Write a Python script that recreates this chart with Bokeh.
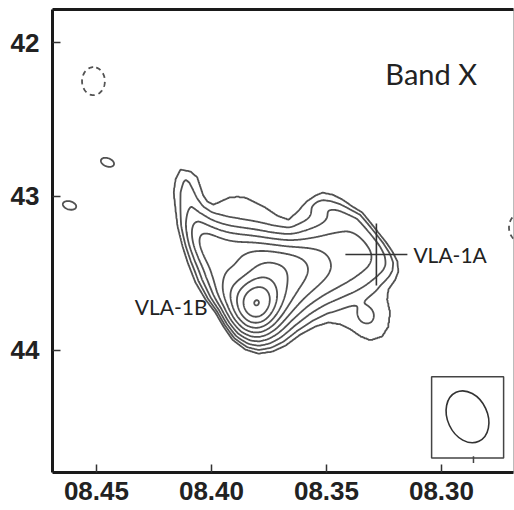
import numpy as np
from bokeh.plotting import figure
from bokeh.plotting.contour import contour_data
from bokeh.models import Range1d, FixedTicker, PrintfTickFormatter, LinearAxis
from bokeh.core.properties import value
from bokeh.embed import file_html
from bokeh.resources import INLINE

# ---------------- values (RA in s, Dec in arcsec) ----------------
# lowest (3 sigma) contour of the main source, traced clockwise from the tip of the tail
outer_ra = [8.4135, 8.4091, 8.4061, 8.4048, 8.4035, 8.4017, 8.3991, 8.3961, 8.3926, 8.3887,
            8.3852, 8.3809, 8.3765, 8.3713, 8.3665, 8.3626, 8.3587, 8.3548, 8.3517, 8.3474,
            8.3430, 8.3387, 8.3344, 8.3309, 8.3274, 8.3243, 8.3213, 8.3191, 8.3187, 8.3200,
            8.3230, 8.3235, 8.3222, 8.3230, 8.3257, 8.3309, 8.3352, 8.3396, 8.3439, 8.3491,
            8.3548, 8.3613, 8.3678, 8.3735, 8.3796, 8.3852, 8.3909, 8.3948, 8.3983, 8.4026,
            8.4070, 8.4104, 8.4126, 8.4148, 8.4157, 8.4165, 8.4157]
outer_dec = [42.824, 42.837, 42.876, 42.935, 42.993, 43.033, 43.052, 43.033, 43.007, 43.000,
             43.007, 43.039, 43.072, 43.124, 43.150, 43.098, 43.033, 42.993, 42.974, 42.987,
             43.020, 43.065, 43.104, 43.169, 43.235, 43.293, 43.358, 43.423, 43.489, 43.541,
             43.606, 43.671, 43.756, 43.847, 43.912, 43.938, 43.912, 43.866, 43.834, 43.821,
             43.847, 43.899, 43.971, 44.010, 44.023, 43.997, 43.932, 43.847, 43.756, 43.671,
             43.560, 43.430, 43.326, 43.195, 43.085, 42.974, 42.889]

# brightness above the lowest contour inside the source (units of rms)
#           plateau  1B core  1B halo  N band   W flank  tail    N knot   island
comp_ra  = [8.3417, 8.3804, 8.3796, 8.3852, 8.3983, 8.4100, 8.3517, 8.3326]
comp_dec = [43.3779, 43.7166, 43.684, 43.3322, 43.4756, 43.0977, 43.052, 43.7818]
comp_sa  = [0.3583, 0.1042, 0.2345, 0.2606, 0.2606, 0.3257, 0.1954, 0.0456]
comp_sb  = [0.2085, 0.1433, 0.2085, 0.1107, 0.1042, 0.0977, 0.0521, 0.0456]
comp_pa  = [23, 0, 30, -12, -70, 100, -15, 0]
comp_pow = [1.5, 1, 1, 1, 1, 1, 1, 1]
comp_amp = [3.35, 3.08, 5.4, 3.0, 2.2, 1.5, 1.3, 1.7]

# isolated blobs around the source
knot_ra  = [8.4452, 8.4617, 8.4513, 8.2657]
knot_dec = [42.7785, 43.0586, 42.2508, 43.2020]
knot_sa  = [0.065, 0.065, 0.085, 0.085]
knot_sb  = [0.039, 0.039, 0.104, 0.104]
knot_pa  = [-20, -15, 0, 0]
knot_amp = [3.8, 3.8, -4.4, -4.4]

pos_levels = [3, 4, 5, 6, 7, 8, 9, 10, 11, 12]
neg_levels = [-3]

x_ticks = [8.30, 8.35, 8.40, 8.45]
y_ticks = [42, 43, 44]

src_ra = [8.3283, 8.3800]
src_dec = [43.378, 43.7036]
src_names = ["VLA-1A", "VLA-1B"]

band_label = "Band X"
band_pos = (8.3244, 42.1987)
beam_box = dict(left=8.3043, right=8.2730, top=44.1726, bottom=44.700)
beam_center = (8.2887, 44.433)
beam_mark = dict(ra=8.2861, dec0=44.690, dec1=44.733)

ARCSEC_PER_S = 15.0
edge_in = 0.0456    # inner ramp scale (arcsec)
edge_out = 0.0195   # outer fall-off scale (arcsec)

# ---------------- build the map ----------------
gx = np.linspace(8.255, 8.485, 700)
gy = np.linspace(41.70, 44.85, 640)
X, Y = np.meshgrid(gx, gy)
U = X * ARCSEC_PER_S
V = Y


def gauss_sum(ras, decs, sas, sbs, pas, pows, amps):
    out = np.zeros_like(X)
    for ra, dec, sa, sb, pa, pw, amp in zip(ras, decs, sas, sbs, pas, pows, amps):
        u = (ra - X) * ARCSEC_PER_S
        w = (dec - Y)
        t = np.deg2rad(pa)
        pp = u * np.cos(t) + w * np.sin(t)
        qq = -u * np.sin(t) + w * np.cos(t)
        r2 = (pp / sa) ** 2 + (qq / sb) ** 2
        out += amp * np.exp(-(0.5 * r2) ** pw)
    return out


def signed_distance(xs, ys):
    px = np.asarray(xs) * ARCSEC_PER_S
    py = np.asarray(ys)
    n = len(px)
    dmin = np.full(U.shape, np.inf)
    inside = np.zeros(U.shape, bool)
    for i in range(n):
        x1, y1, x2, y2 = px[i], py[i], px[(i + 1) % n], py[(i + 1) % n]
        dx, dy = x2 - x1, y2 - y1
        t = np.clip(((U - x1) * dx + (V - y1) * dy) / (dx * dx + dy * dy), 0, 1)
        dmin = np.minimum(dmin, np.hypot(U - (x1 + t * dx), V - (y1 + t * dy)))
        if dy != 0:
            cond = (y1 > V) != (y2 > V)
            xint = x1 + (V - y1) * dx / dy
            inside ^= cond & (U < xint)
    return np.where(inside, dmin, -dmin)


d = signed_distance(outer_ra, outer_dec)
F = gauss_sum(comp_ra, comp_dec, comp_sa, comp_sb, comp_pa, comp_pow, comp_amp)
Z = np.where(d < 0, 3.0 * np.exp(np.minimum(d, 0) / edge_out),
             3.0 + F * (1 - np.exp(-np.maximum(d, 0) / edge_in)))
Z += gauss_sum(knot_ra, knot_dec, knot_sa, knot_sb, knot_pa, [1] * len(knot_ra), knot_amp)

# ---------------- figure ----------------
p = figure(width=514, height=510,
           x_range=Range1d(8.4691, 8.2687), y_range=Range1d(44.795, 41.785),
           output_backend="svg", toolbar_location=None,
           min_border_left=52, min_border_right=1, min_border_top=9, min_border_bottom=38)
p.background_fill_color = "white"
p.border_fill_color = "white"
p.outline_line_color = "#bbbbbb"
p.outline_line_width = 1
p.xgrid.visible = False
p.ygrid.visible = False

pos = contour_data(gx, gy, Z, pos_levels, want_fill=False, want_line=True)
p.multi_line(pos.line_data.xs, pos.line_data.ys, line_color="#525252", line_width=1.8)
neg = contour_data(gx, gy, Z, neg_levels, want_fill=False, want_line=True)
p.multi_line(neg.line_data.xs, neg.line_data.ys, line_color="#525252", line_width=1.8, line_dash="5 4")

# source marker and labels
p.scatter([src_ra[0]], [src_dec[0]], marker="cross", size=62, line_color="#333333", line_width=1.6)
p.text([src_ra[0]], [src_dec[0]], text=[src_names[0]], x_offset=37, y_offset=0,
       text_font=value("Lato"), text_font_size="21px", text_align="left",
       text_baseline="middle", text_color="#222222")
p.text([src_ra[1]], [src_dec[1]], text=[src_names[1]], x_offset=-50, y_offset=2,
       text_font=value("Lato"), text_font_size="21px", text_align="right",
       text_baseline="middle", text_color="#222222")
p.text([band_pos[0]], [band_pos[1]], text=[band_label], text_font=value("Lato"), text_font_size="29px",
       text_align="left", text_baseline="alphabetic", text_color="#222222")

# beam
p.quad(left=[beam_box["left"]], right=[beam_box["right"]], top=[beam_box["top"]], bottom=[beam_box["bottom"]],
       fill_color=None, line_color="#444444", line_width=1.5)
p.ellipse([beam_center[0]], [beam_center[1]], width=40, height=54, angle=np.deg2rad(25),
          width_units="screen", height_units="screen", fill_color=None, line_color="#333333", line_width=1.6)
p.segment(x0=[beam_mark["ra"]], y0=[beam_mark["dec0"]], x1=[beam_mark["ra"]], y1=[beam_mark["dec1"]],
          line_color="#444444", line_width=1.5)

# axes
for ax in (p.xaxis, p.yaxis):
    ax.axis_line_width = 3
    ax.axis_line_color = "#1a1a1a"
    ax.major_tick_in = 8
    ax.major_tick_out = 0
    ax.minor_tick_in = 0
    ax.minor_tick_out = 0
    ax.major_tick_line_width = 1.5
    ax.major_tick_line_color = "#333333"
    ax.major_label_text_font = "Liberation Sans"
    ax.major_label_text_font_style = "bold"
    ax.major_label_text_font_size = "26px"
    ax.major_label_text_color = "#222222"
p.xaxis.ticker = FixedTicker(ticks=x_ticks)
p.xaxis.formatter = PrintfTickFormatter(format="0%.2f")
p.xaxis.major_label_standoff = 9
p.yaxis.ticker = FixedTicker(ticks=y_ticks)
p.yaxis.major_label_standoff = 13

top = LinearAxis(ticker=FixedTicker(ticks=[]), axis_line_width=3, axis_line_color="#1a1a1a",
                 major_tick_in=0, major_tick_out=0, minor_tick_in=0, minor_tick_out=0,
                 major_label_text_font_size="0px", major_label_standoff=0)
p.add_layout(top, "above")

open("out.html", "w").write(file_html(p, INLINE))
